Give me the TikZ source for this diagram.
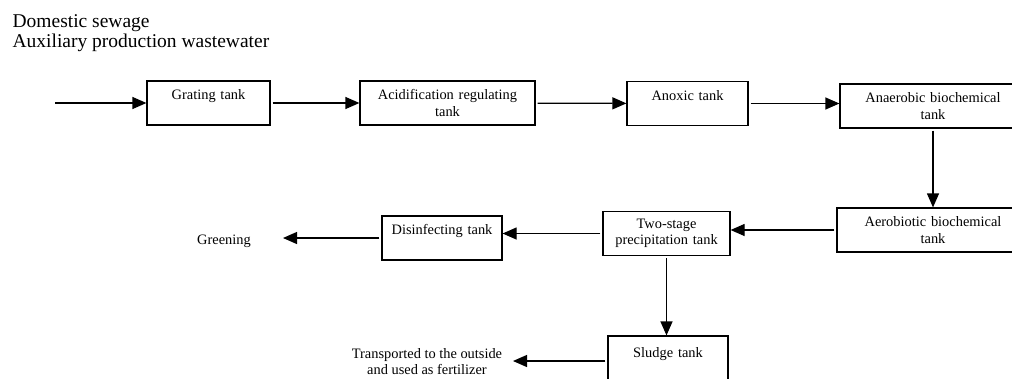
\documentclass[tikz,border=0pt]{standalone}
\usepackage{fontspec}
\setmainfont{Liberation Serif}
\usetikzlibrary{arrows.meta}

\begin{document}
\begin{tikzpicture}[x=1pt,y=-1pt,line width=1.2pt,
    tank/.style={draw,align=center,text width=#1,inner xsep=0pt,
      minimum height=44pt,font=\fontsize{14.4}{16.5}\selectfont},
    flow/.style={-{Triangle[length=14pt,width=12pt]},shorten <=2pt},
    note/.style={align=center,font=\fontsize{14.4}{16}\selectfont},
    source/.style={anchor=base west,inner sep=0pt,font=\fontsize{19.5}{20}\selectfont}]
  \useasboundingbox (0,0) rectangle (1012,378);

  % incoming water
  \node[source] (sewage) at (12,27) {Domestic sewage};
  \node[source] (auxiliary) at (12,47) {Auxiliary production wastewater};
  \coordinate (inlet) at (53,103);

  % first row of tanks
  \node[tank=123pt] (grating) at (208.5,103) {Grating tank\\~};
  \node[tank=175pt] (acid) at (447.5,103) {Acidification regulating\\tank};
  \node[tank=121pt] (anoxic) at (687.5,103.5) {Anoxic tank\\~};
  \node[tank=186pt] (anaerobic) at (933,106) {Anaerobic biochemical\\tank};

  % second row
  \node[tank=192pt] (aerobic) at (933,230) {Aerobiotic biochemical\\tank};
  \node[tank=127pt] (settle) at (666.5,233.5) {Two-stage\\precipitation tank};
  \node[tank=120pt] (disinfect) at (442,238) {Disinfecting tank\\~};
  \node[note] (greening) at (224,241) {Greening};
  \coordinate (green end) at (283,238);

  % sludge line
  \node[tank=120pt,minimum height=50pt] (sludge) at (668,361) {Sludge tank\\~};
  \node[note] (fertilizer) at (427,362) {Transported to the outside\\and used as fertilizer};
  \coordinate (sludge end) at (513,357);

  \draw[flow] (inlet) -- (grating);
  \draw[flow] (grating) -- (acid);
  \draw[flow] (acid) -- (anoxic);
  \draw[flow] (anoxic) -- (anoxic -| anaerobic.west);
  \draw[flow] (anaerobic) -- (anaerobic |- aerobic.north);
  \draw[flow] (aerobic) -- (aerobic -| settle.east);
  \draw[flow] (settle) -- (settle -| disinfect.east);
  \draw[flow] (disinfect) -- (green end);
  \draw[flow] (settle) -- (settle |- sludge.north);
  \draw[flow] (sludge) -- (sludge -| sludge end);
\end{tikzpicture}
\end{document}
